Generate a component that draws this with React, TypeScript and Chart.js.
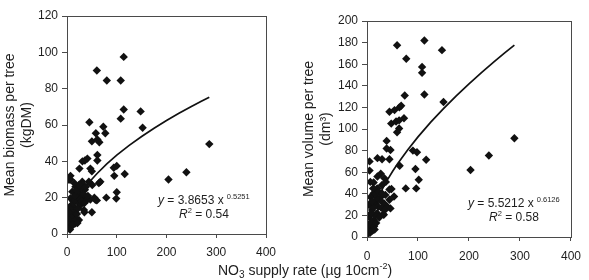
import React, { useEffect, useRef } from "react";
import { Chart, registerables } from "chart.js";

Chart.register(...registerables);

// NO3 supply rate (µg 10cm-2) and mean biomass per tree (kgDM)
const biomassX = [
  114, 60, 80, 108, 114, 148, 108, 152, 45, 73, 77, 58, 50, 65, 61, 61, 61, 41, 36, 31,
  47, 50, 25, 64, 94, 100, 95, 116, 100, 99, 79, 60, 50, 35, 55, 47, 38, 22, 7, 7,
  204, 240, 286,
  2.6, 10.6, 17, 7, 24, 14, 20.6, 7, 27, 30.7, 36, 17, 10.6, 4, 34, 40.7, 50.8, 44, 30.7, 57, 67,
  3, 5, 8, 12, 15, 18, 20, 22, 25, 28, 32, 26, 13, 9, 5, 3, 16, 19, 24, 33, 38, 42, 12, 6, 21, 29, 35, 15,
];
const biomassY = [
  97.5, 90, 84.5, 84.5, 68.5, 67.5, 63.5, 58.5, 61.5, 59, 55.5, 55.5, 51, 50.5, 52, 43.5, 40.5, 41.5, 40.5, 40,
  36, 34.5, 36, 28, 36.5, 37.5, 32, 33, 23, 19.5, 20, 18.5, 12, 12, 20, 19, 20, 19, 32, 30,
  30, 34, 49.5,
  3.1, 7.7, 5.9, 11.4, 7.7, 15, 17.8, 19.7, 16, 20.6, 24.3, 26, 23.3, 29.8, 13.2, 18.8, 27, 28.8, 28.8, 18.8, 28.8,
  6, 9, 4, 10, 12, 8, 11, 14, 22, 25, 27, 19, 18, 16, 14, 12, 21, 24, 27, 22, 26, 21, 5, 2.5, 6, 18, 17, 28,
];

// NO3 supply rate (µg 10cm-2) and mean volume per tree (dm3)
const volumeX = [
  112.5, 59, 147, 77, 108, 108, 74, 112.5, 150, 44, 54, 63.5, 67, 72.5, 47.5, 57, 63, 63, 59, 38.5,
  38.5, 46, 20.5, 29.5, 44, 5, 5, 6.5, 13, 20.5, 27, 34, 29, 37, 13, 19, 27, 44, 53, 48,
  33.5, 44, 46, 32, 64, 76, 90, 98, 95, 101.5, 96.5, 116, 203, 239, 289,
  0.6, 7, 13.5, 3.9, 10, 3.9, 16.6, 20, 7, 33, 26, 36, 20, 3.5, 5, 9, 11, 14, 16, 18,
  22, 24, 12, 8, 2, 6, 15, 19, 10, 28, 17, 23, 30, 12, 40, 35,
];
const volumeY = [
  182, 177.5, 173, 165, 157.5, 152, 131, 132, 125, 116, 117.5, 120, 121.5, 110, 105, 107, 108, 100.5, 97, 89,
  82, 80.5, 73, 72, 72, 70, 61.5, 51, 50.5, 56, 58.5, 54.5, 48, 51, 40.5, 34.5, 37, 44, 37.5, 44.5,
  31, 34.5, 26.5, 21, 66, 45, 80, 78.5, 63, 53, 45, 71.5, 62, 75.5, 91.5,
  4.9, 9.5, 15.7, 18.8, 25, 29.6, 31.2, 22, 37, 20.5, 34, 39, 45, 8, 12, 14, 6, 10, 20, 13,
  28, 18, 27, 22, 3, 4, 7, 36, 33, 27, 40, 42, 40, 45, 28, 25,
];

// Power-law trend lines y = a·x^b, sampled over the observed NO3 range
const biomassFitX = [1, 2, 4, 7, 10, 15, 20, 30, 40, 50, 60, 80, 100, 125, 150, 175, 200, 225, 250, 270, 286];
const volumeFitX = [1, 2, 4, 7, 10, 15, 20, 30, 40, 50, 60, 80, 100, 125, 150, 175, 200, 225, 250, 270, 289];
const biomassCoef = { a: 3.8653, b: 0.5251, r2: "0.54" };
const volumeCoef = { a: 5.5212, b: 0.6126, r2: "0.58" };

const xTicks = [0, 100, 200, 300, 400];
const biomassYMax = 120;
const volumeYMax = 200;

const FONT = "Arial, 'Liberation Sans', Helvetica, sans-serif";
const INK = "#1e1e1e";

const framePlugin = {
  id: "frame",
  afterDraw(chart: any) {
    const { ctx, chartArea: a } = chart;
    ctx.save();
    ctx.strokeStyle = "#4a4a4a";
    ctx.lineWidth = 1;
    ctx.strokeRect(
      Math.round(a.left) + 0.5,
      Math.round(a.top) + 0.5,
      Math.round(a.right - a.left),
      Math.round(a.bottom - a.top)
    );
    ctx.restore();
  },
};

type PanelProps = {
  xs: number[];
  ys: number[];
  fitXs: number[];
  coef: { a: number; b: number };
  yMax: number;
  yTitle: string[];
  left: number;
  width: number;
  yAxisWidth: number;
  titlePad: number;
  padTop: number;
  padRight: number;
  xAxisHeight: number;
  xLabelPad: number;
};

function Panel(p: PanelProps) {
  const ref = useRef<HTMLCanvasElement | null>(null);

  useEffect(() => {
    if (!ref.current) return;
    const points = p.xs.map((x, i) => ({ x, y: p.ys[i] }));
    const fit = p.fitXs.map((x) => ({ x, y: p.coef.a * Math.pow(x, p.coef.b) }));
    const tickFont = { family: FONT, size: 12 };

    const chart = new Chart(ref.current, {
      type: "scatter",
      data: {
        datasets: [
          {
            data: fit,
            showLine: true,
            borderColor: "#111",
            borderWidth: 1.7,
            pointRadius: 0,
            tension: 0,
            order: 1,
          } as any,
          {
            data: points,
            pointStyle: "rectRot",
            pointRadius: 4.2,
            pointBackgroundColor: "#111",
            pointBorderWidth: 0,
            order: 0,
          } as any,
        ],
      },
      options: {
        animation: false,
        responsive: false,
        events: [],
        layout: { padding: { top: p.padTop, right: p.padRight, left: 0, bottom: 0 } },
        plugins: { legend: { display: false }, tooltip: { enabled: false } },
        scales: {
          x: {
            type: "linear",
            min: 0,
            max: 400,
            afterBuildTicks: (s: any) => {
              s.ticks = xTicks.map((v) => ({ value: v }));
            },
            afterFit: (s: any) => {
              s.height = p.xAxisHeight;
            },
            border: { display: false },
            grid: { drawOnChartArea: false, drawTicks: true, tickLength: 4, color: "#4a4a4a" },
            ticks: { font: tickFont, color: INK, padding: p.xLabelPad, maxRotation: 0 },
          },
          y: {
            type: "linear",
            min: 0,
            max: p.yMax,
            ticks: { stepSize: 20, font: tickFont, color: INK, padding: 4 },
            afterFit: (s: any) => {
              s.width = p.yAxisWidth;
            },
            border: { display: false },
            grid: { drawOnChartArea: false, drawTicks: true, tickLength: 5, color: "#4a4a4a" },
            title: {
              display: true,
              text: p.yTitle,
              color: INK,
              font: { family: FONT, size: 14, lineHeight: 1.2 },
              padding: { top: p.titlePad, bottom: 0 },
            },
          },
        },
      },
      plugins: [framePlugin],
    } as any);

    return () => chart.destroy();
  }, []);

  return (
    <canvas
      ref={ref}
      width={p.width}
      height={280}
      style={{ position: "absolute", left: p.left, top: 0, width: p.width, height: 280 }}
    />
  );
}

function Equation({ left, top, a, b, r2 }: { left: number; top: number; a: number; b: number; r2: string }) {
  const base: React.CSSProperties = {
    position: "absolute",
    fontFamily: FONT,
    fontSize: 12,
    lineHeight: "14px",
    color: INK,
    whiteSpace: "nowrap",
  };
  const sup: React.CSSProperties = { fontSize: 7.5, position: "relative", top: -5, marginLeft: 3 };
  return (
    <>
      <div style={{ ...base, left, top }}>
        <i>y</i> = {a.toFixed(4)} x<span style={sup}>{b.toFixed(4)}</span>
      </div>
      <div style={{ ...base, left: left + 21, top: top + 14 }}>
        <i>R</i>
        <span style={{ fontSize: 7.5, position: "relative", top: -5 }}>2</span> = {r2}
      </div>
    </>
  );
}

export default function App() {
  return (
    <div
      style={{
        position: "fixed",
        left: 0,
        top: 0,
        width: 589,
        height: 280,
        background: "#fff",
        overflow: "hidden",
      }}
    >
      <Panel
        xs={biomassX}
        ys={biomassY}
        fitXs={biomassFitX}
        coef={biomassCoef}
        yMax={biomassYMax}
        yTitle={["Mean biomass per tree", "(kgDM)"]}
        left={0}
        width={295}
        yAxisWidth={67}
        titlePad={1.6}
        padTop={16}
        padRight={29}
        xAxisHeight={46}
        xLabelPad={7}
      />
      <Panel
        xs={volumeX}
        ys={volumeY}
        fitXs={volumeFitX}
        coef={volumeCoef}
        yMax={volumeYMax}
        yTitle={["Mean volume per tree", "(dm³)"]}
        left={295}
        width={294}
        yAxisWidth={72}
        titlePad={5.6}
        padTop={21}
        padRight={15}
        xAxisHeight={43}
        xLabelPad={8}
      />
      <Equation left={158} top={193} a={biomassCoef.a} b={biomassCoef.b} r2={biomassCoef.r2} />
      <Equation left={468} top={196} a={volumeCoef.a} b={volumeCoef.b} r2={volumeCoef.r2} />
      <div
        style={{
          position: "absolute",
          left: 218,
          top: 262,
          fontFamily: FONT,
          fontSize: 14,
          lineHeight: "16px",
          color: INK,
          whiteSpace: "nowrap",
        }}
      >
        NO<span style={{ fontSize: 10, position: "relative", top: 3 }}>3</span> supply rate (µg 10cm
        <span style={{ fontSize: 9, position: "relative", top: -6 }}>-2</span>)
      </div>
    </div>
  );
}
